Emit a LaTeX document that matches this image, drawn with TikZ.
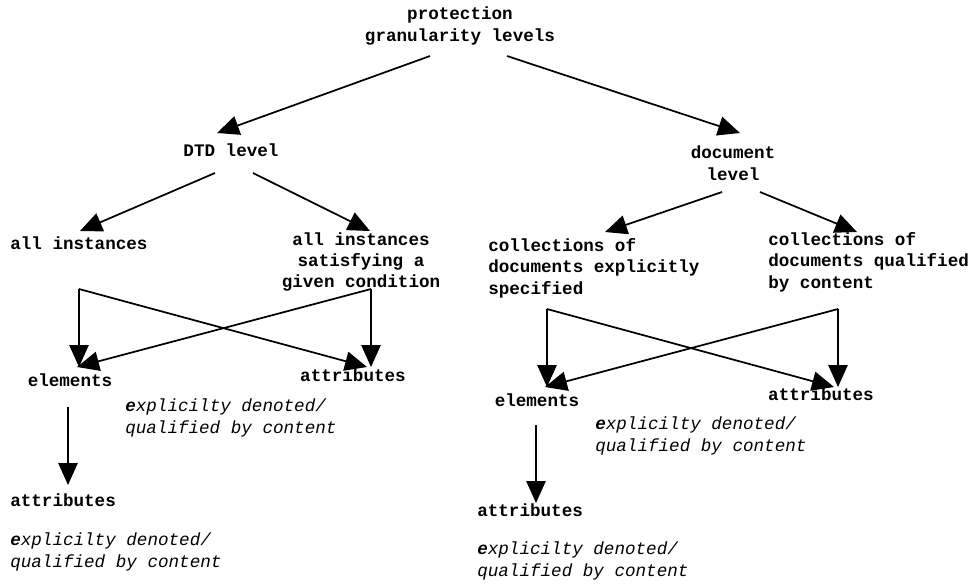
\documentclass[tikz,border=0pt]{standalone}
\usepackage{fontspec}
\setmainfont{Liberation Mono}
\usetikzlibrary{arrows.meta,calc}
\tikzset{
  lbl/.style={font=\fontsize{13.2}{16.1}\selectfont\bfseries, inner sep=0pt, text height=0.75em, text depth=0.05em},
  mlbl/.style={font=\fontsize{13.2}{16.1}\selectfont\bfseries, inner sep=0pt},
  note/.style={font=\fontsize{13.2}{16.1}\selectfont\itshape, inner sep=0pt, align=left, anchor=west},
  arr/.style={line width=1.3pt, -{Triangle[length=16.5pt,width=14.5pt]}},
  ln/.style={line width=1.3pt}
}
\newcommand{\expl}{{\bfseries e}xplicilty denoted/\\qualified by content}
\begin{document}
\begin{tikzpicture}[x=0.75pt,y=-0.75pt]
\useasboundingbox (0,0) rectangle (974,583);
% nodes
\node[mlbl, align=center] (top) at (460,26) {protection\\granularity levels};
\node[lbl] (dtd) at (231,152) {DTD level};
\node[mlbl, align=center] (doc) at (733,163) {document\\level};
\node[lbl, anchor=west] (allinst) at (10,245) {all instances};
\node[mlbl, align=center] (allcond) at (361,262) {all instances\\satisfying a\\given condition};
\node[mlbl, align=left, anchor=west] (colexp) at (488,268) {collections of\\documents explicitly\\specified};
\node[mlbl, align=left, anchor=west] (colqual) at (768,262) {collections of\\documents qualified\\by content};
\node[lbl] (elL) at (70,382) {elements};
\node[lbl] (attL) at (353,377) {attributes};
\node[note] (itL1) at (125,418) {\expl};
\node[lbl] (elR) at (537,402) {elements};
\node[lbl] (attR) at (821,396) {attributes};
\node[note] (itR1) at (595,436) {\expl};
\node[lbl, anchor=west] (attLb) at (10,502) {attributes};
\node[note] (itL2) at (10,552) {\expl};
\node[lbl, anchor=west] (attRb) at (477,512) {attributes};
\node[note] (itR2) at (477,561) {\expl};
% top level connectors
\draw[arr] ($(top)+(-30,30)$) -- ($(dtd)+(-14,-19)$);
\draw[arr] ($(top)+(47,30)$) -- ($(doc)+(7,-30)$);
\draw[arr] ($(dtd)+(-16,21)$) -- ($(allinst.west)+(70,-14)$);
\draw[arr] ($(dtd)+(22,21)$) -- ($(allcond)+(9,-31)$);
\draw[arr] ($(doc)+(-11,29)$) -- ($(colexp.west)+(117,-36)$);
\draw[arr] ($(doc)+(27,29)$) -- ($(colqual.west)+(89,-30)$);
% left cross
\coordinate (kL) at ($(allinst.west)+(69,44)$);
\coordinate (kR) at ($(allcond)+(10,27)$);
\draw[arr] (kL) -- ($(elL)+(9,-15)$);
\draw[arr] (kL) -- ($(attL)+(14,-10)$);
\draw[arr] (kR) -- ($(attL)+(18,-10)$);
\draw[arr] (kR) -- ($(elL)+(7,-15)$);
% right cross
\coordinate (mL) at ($(colexp.west)+(59,41)$);
\coordinate (mR) at ($(colqual.west)+(70,47)$);
\draw[arr] (mL) -- ($(elR)+(10,-15)$);
\draw[arr] (mL) -- ($(attR)+(13,-9)$);
\draw[arr] (mR) -- ($(attR)+(17,-9)$);
\draw[arr] (mR) -- ($(elR)+(8,-15)$);
% verticals
\draw[arr] ($(elL)+(-2,25)$) -- ($(attLb.west)+(58,-17)$);
\draw[arr] ($(elR)+(-1,23)$) -- ($(attRb.west)+(59,-9)$);
\end{tikzpicture}
\end{document}
